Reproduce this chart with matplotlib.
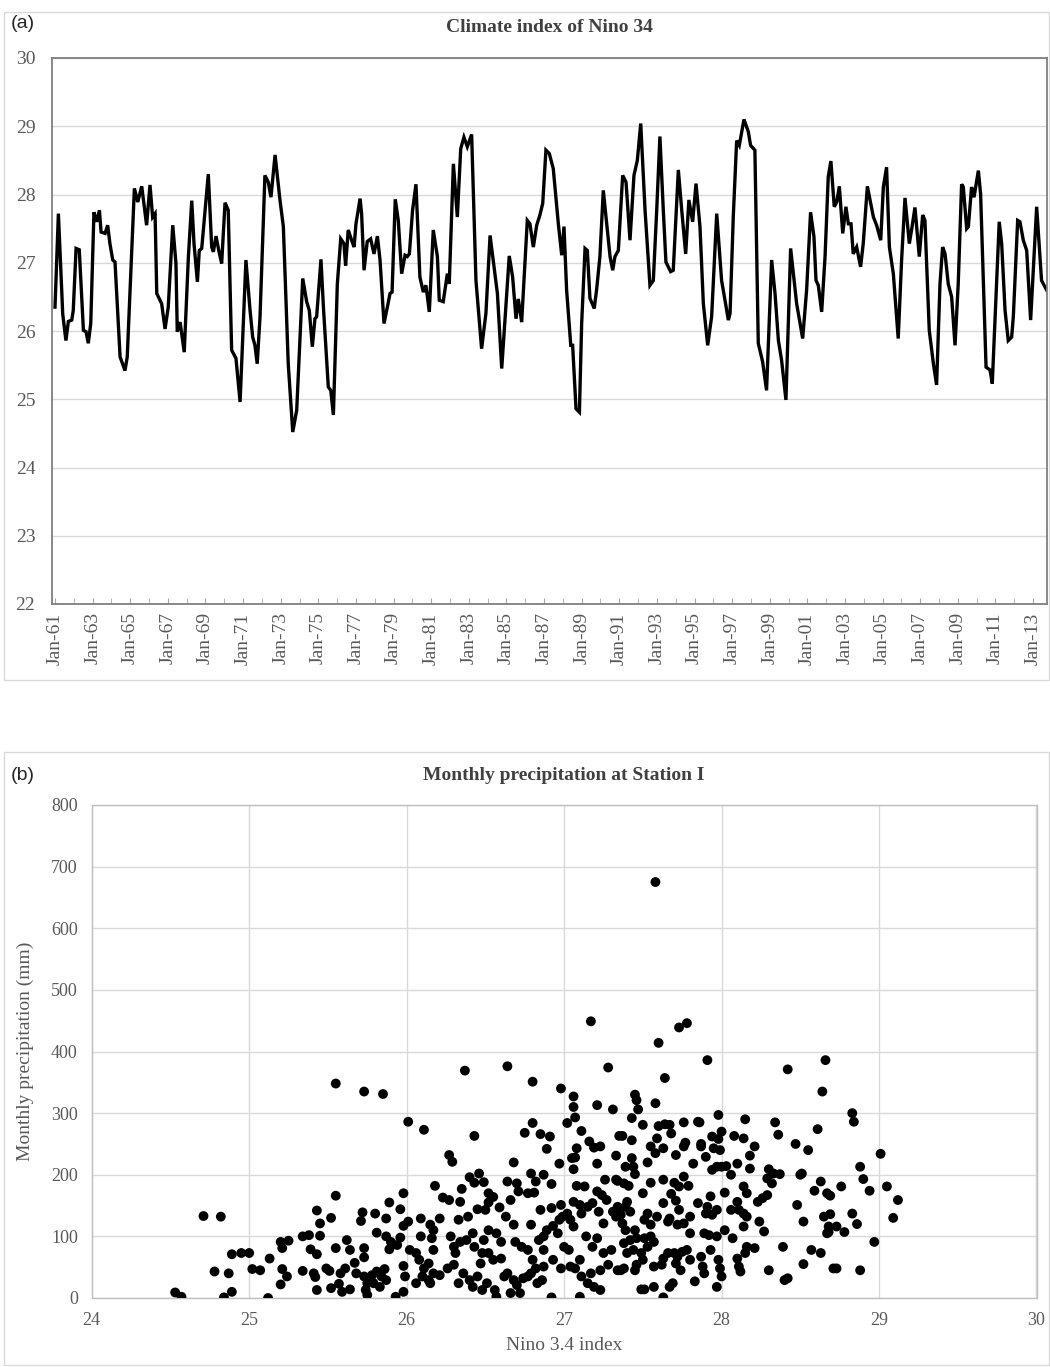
"""
Nino 3.4 index time series (a) and monthly precipitation vs. Nino 3.4 (b).
"""

import matplotlib
matplotlib.use("Agg")
import matplotlib.pyplot as plt
from matplotlib.patches import Rectangle
from matplotlib.ticker import FixedLocator, MultipleLocator

# --- Data: panel (a), turning points of the monthly series (decimal year, degC)
nino_t = [
    1961.00, 1961.18, 1961.41, 1961.58, 1961.71, 1961.89, 1961.97, 1962.12, 1962.29, 1962.51,
    1962.65, 1962.77, 1962.90, 1963.07, 1963.22, 1963.36, 1963.45, 1963.66, 1963.80, 1963.92,
    1964.07, 1964.19, 1964.46, 1964.72, 1964.84, 1965.22, 1965.40, 1965.61, 1965.87, 1966.05,
    1966.19, 1966.32, 1966.41, 1966.67, 1966.85, 1967.02, 1967.26, 1967.43, 1967.50, 1967.65,
    1967.87, 1968.09, 1968.27, 1968.39, 1968.57, 1968.67, 1968.80, 1969.15, 1969.33, 1969.42,
    1969.56, 1969.72, 1969.86, 1970.04, 1970.21, 1970.39, 1970.62, 1970.84, 1971.15, 1971.37,
    1971.51, 1971.63, 1971.75, 1971.90, 1972.16, 1972.34, 1972.48, 1972.70, 1972.96, 1973.14,
    1973.40, 1973.64, 1973.85, 1974.17, 1974.38, 1974.52, 1974.68, 1974.82, 1974.91, 1975.14,
    1975.27, 1975.53, 1975.66, 1975.80, 1976.01, 1976.19, 1976.36, 1976.45, 1976.59, 1976.77,
    1976.90, 1977.00, 1977.22, 1977.30, 1977.43, 1977.60, 1977.78, 1977.96, 1978.14, 1978.28,
    1978.49, 1978.67, 1978.81, 1978.92, 1979.09, 1979.25, 1979.43, 1979.61, 1979.73, 1979.84,
    1980.01, 1980.19, 1980.40, 1980.58, 1980.72, 1980.90, 1981.11, 1981.33, 1981.43, 1981.64,
    1981.86, 1981.96, 1982.18, 1982.39, 1982.57, 1982.74, 1982.92, 1983.15, 1983.38, 1983.68,
    1983.91, 1984.13, 1984.34, 1984.52, 1984.75, 1984.98, 1985.15, 1985.33, 1985.51, 1985.63,
    1985.81, 1986.11, 1986.25, 1986.43, 1986.61, 1986.78, 1986.93, 1987.10, 1987.28, 1987.49,
    1987.76, 1987.94, 1988.06, 1988.20, 1988.42, 1988.52, 1988.70, 1988.88, 1989.00, 1989.18,
    1989.30, 1989.44, 1989.67, 1989.80, 1989.97, 1990.15, 1990.33, 1990.51, 1990.65, 1990.77,
    1990.95, 1991.18, 1991.36, 1991.57, 1991.78, 1991.96, 1992.14, 1992.37, 1992.63, 1992.81,
    1992.99, 1993.16, 1993.34, 1993.48, 1993.73, 1993.87, 1994.14, 1994.32, 1994.53, 1994.70,
    1994.90, 1995.08, 1995.29, 1995.47, 1995.70, 1995.91, 1996.18, 1996.44, 1996.62, 1996.80,
    1996.89, 1997.06, 1997.24, 1997.38, 1997.63, 1997.86, 1997.98, 1998.21, 1998.39, 1998.62,
    1998.83, 1999.10, 1999.28, 1999.46, 1999.63, 1999.86, 2000.11, 2000.43, 2000.75, 2000.96,
    2001.17, 2001.35, 2001.46, 2001.58, 2001.76, 2001.94, 2002.11, 2002.25, 2002.43, 2002.56,
    2002.70, 2002.88, 2003.05, 2003.18, 2003.32, 2003.44, 2003.62, 2003.83, 2003.97, 2004.19,
    2004.33, 2004.51, 2004.68, 2004.90, 2005.04, 2005.21, 2005.36, 2005.57, 2005.83, 2006.01,
    2006.19, 2006.42, 2006.54, 2006.72, 2006.95, 2007.13, 2007.25, 2007.48, 2007.70, 2007.87,
    2008.05, 2008.19, 2008.32, 2008.49, 2008.67, 2008.85, 2009.02, 2009.20, 2009.29, 2009.47,
    2009.56, 2009.73, 2009.86, 2010.09, 2010.21, 2010.50, 2010.71, 2010.83, 2011.03, 2011.20,
    2011.33, 2011.51, 2011.68, 2011.86, 2011.95, 2012.18, 2012.30, 2012.48, 2012.66, 2012.87,
    2013.19, 2013.45, 2013.72,
]
nino_v = [
    26.35, 27.72, 26.25, 25.86, 26.14, 26.16, 26.30, 27.21, 27.19, 26.01,
    25.99, 25.82, 26.11, 27.74, 27.60, 27.77, 27.45, 27.43, 27.55, 27.28,
    27.04, 27.01, 25.62, 25.42, 25.62, 28.09, 27.89, 28.12, 27.55, 28.14,
    27.67, 27.72, 26.55, 26.40, 26.03, 26.35, 27.55, 26.99, 25.99, 26.13,
    25.69, 27.08, 27.91, 27.28, 26.72, 27.18, 27.21, 28.30, 27.23, 27.16,
    27.39, 27.16, 26.99, 27.88, 27.77, 25.72, 25.60, 24.96, 27.04, 26.30,
    25.91, 25.79, 25.52, 26.21, 28.28, 28.18, 27.96, 28.58, 27.92, 27.53,
    25.52, 24.52, 24.84, 26.77, 26.43, 26.30, 25.77, 26.18, 26.21, 27.05,
    26.35, 25.18, 25.13, 24.77, 26.69, 27.35, 27.28, 26.96, 27.48, 27.33,
    27.23, 27.57, 27.94, 27.72, 26.89, 27.31, 27.35, 27.13, 27.39, 27.04,
    26.11, 26.35, 26.55, 26.57, 27.93, 27.62, 26.84, 27.11, 27.09, 27.13,
    27.77, 28.15, 26.79, 26.57, 26.67, 26.28, 27.48, 27.09, 26.45, 26.43,
    26.84, 26.69, 28.45, 27.67, 28.67, 28.84, 28.70, 28.88, 26.74, 25.74,
    26.26, 27.40, 26.94, 26.55, 25.45, 26.40, 27.10, 26.79, 26.18, 26.47,
    26.13, 27.62, 27.57, 27.23, 27.55, 27.70, 27.87, 28.65, 28.60, 28.38,
    27.57, 27.11, 27.53, 26.60, 25.79, 25.79, 24.86, 24.81, 26.11, 27.21,
    27.18, 26.48, 26.33, 26.62, 27.09, 28.06, 27.57, 27.09, 26.89, 27.09,
    27.18, 28.28, 28.18, 27.33, 28.28, 28.50, 29.04, 27.77, 26.67, 26.74,
    27.77, 28.85, 27.77, 27.01, 26.87, 26.89, 28.36, 27.77, 27.13, 27.92,
    27.60, 28.16, 27.53, 26.40, 25.79, 26.21, 27.72, 26.74, 26.45, 26.16,
    26.26, 27.67, 28.79, 28.72, 29.10, 28.92, 28.72, 28.65, 25.82, 25.55,
    25.13, 27.04, 26.55, 25.86, 25.57, 24.99, 27.21, 26.40, 25.89, 26.60,
    27.74, 27.38, 26.74, 26.67, 26.28, 27.09, 28.26, 28.49, 27.82, 27.89,
    28.12, 27.43, 27.82, 27.57, 27.57, 27.13, 27.23, 26.94, 27.28, 28.12,
    27.92, 27.67, 27.55, 27.33, 28.11, 28.40, 27.23, 26.84, 25.89, 27.04,
    27.95, 27.28, 27.48, 27.81, 27.09, 27.70, 27.62, 26.01, 25.52, 25.21,
    26.69, 27.23, 27.13, 26.69, 26.50, 25.79, 26.69, 28.15, 28.11, 27.50,
    27.53, 28.11, 27.96, 28.35, 28.01, 25.47, 25.43, 25.23, 26.50, 27.60,
    27.28, 26.30, 25.86, 25.91, 26.21, 27.62, 27.60, 27.33, 27.18, 26.16,
    27.82, 26.74, 26.60,
]
year_ticks = list(range(1961, 2014, 2))
year_labels = [f"Jan-{y % 100:02d}" for y in year_ticks]

# --- Data: panel (b), Nino 3.4 index vs monthly precipitation (mm) ---------
scat_x = [
    # Nino < 26
    25.55, 25.73, 25.85, 26.01, 25.55, 24.71, 24.82, 25.43, 25.52, 25.45,
    25.45, 25.72, 25.71, 25.80, 25.87, 25.89, 25.98, 25.96, 25.98, 25.81,
    25.87, 25.90, 25.96, 25.94, 25.89, 25.62, 25.55, 25.64, 25.73, 25.73,
    25.67, 25.49, 25.41, 25.42, 25.51, 25.58, 25.61, 25.68, 25.73, 25.78,
    25.81, 25.86, 25.84, 25.75, 25.79, 25.83, 25.87, 25.75, 25.43, 25.52,
    25.57, 25.59, 25.64, 25.74, 25.93, 25.98, 25.98, 25.99, 25.34, 25.38,
    25.39, 25.43, 25.34, 25.20, 25.25, 25.21, 25.13, 25.21, 25.24, 25.20,
    25.12, 24.95, 25.00, 24.89, 25.02, 25.07, 24.78, 24.87, 24.89, 24.84,
    24.53, 24.57,
    # Nino 26 - 27.3
    27.17, 26.37, 26.64, 27.28, 26.80, 26.98, 27.06, 27.06, 27.07, 27.02,
    27.21, 27.31, 26.11, 26.43, 26.75, 26.80, 26.85, 26.91, 26.89, 27.11,
    27.16, 27.19, 27.23, 27.08, 27.05, 27.07, 27.06, 26.97, 27.21, 27.35,
    26.27, 26.29, 26.68, 26.18, 26.40, 26.46, 26.49, 26.43, 26.35, 26.23,
    26.27, 26.34, 26.52, 26.55, 26.52, 26.50, 26.59, 26.45, 26.39, 26.33,
    26.21, 26.09, 26.01, 26.64, 26.70, 26.66, 26.71, 26.77, 26.81, 26.79,
    26.82, 26.87, 26.92, 26.63, 26.68, 26.79, 26.85, 26.92, 26.98, 26.99,
    27.02, 27.04, 27.06, 27.10, 27.13, 27.08, 26.97, 26.93, 26.96, 26.89,
    26.87, 27.11, 27.15, 27.18, 27.21, 27.24, 27.27, 27.26, 27.33, 27.22,
    27.25, 27.31, 27.34, 26.15, 26.17, 26.16, 26.17, 26.09, 26.28, 26.30,
    26.31, 26.34, 26.38, 26.42, 26.43, 26.49, 26.52, 26.57, 26.60, 26.02,
    26.06, 26.08, 26.11, 26.14, 26.17, 26.10, 26.14, 26.15, 26.06, 26.21,
    26.26, 26.30, 26.33, 26.36, 26.40, 26.42, 26.45, 26.47, 26.48, 26.52,
    26.55, 26.60, 26.51, 26.56, 26.57, 26.48, 26.62, 26.64, 26.68, 26.70,
    26.72, 26.74, 26.77, 26.69, 26.73, 26.77, 26.80, 26.82, 26.84, 26.87,
    26.87, 26.86, 26.83, 26.79, 26.66, 26.92, 26.93, 26.98, 27.00, 27.03,
    27.04, 27.07, 27.10, 27.11, 27.10, 27.15, 27.19, 27.23, 27.18, 27.21,
    27.25, 27.30, 27.28, 27.34, 27.23, 27.17, 27.14, 27.06,
    # Nino 27.3 - 28.7
    27.73, 27.78, 27.60, 27.91, 27.64, 28.42, 28.66, 28.64, 27.45, 27.46,
    27.47, 27.58, 27.43, 27.50, 27.60, 27.64, 27.67, 27.68, 27.76, 27.85,
    27.86, 27.98, 28.00, 27.94, 27.98, 28.08, 28.14, 28.15, 28.34, 28.36,
    28.47, 28.55, 28.61, 27.37, 27.43, 27.59, 27.55, 27.58, 27.63, 27.71,
    27.76, 27.77, 27.87, 27.87, 27.90, 27.82, 27.95, 27.99, 27.97, 27.94,
    28.00, 28.03, 28.10, 28.21, 28.18, 28.18, 28.06, 28.30, 28.29, 28.32,
    28.37, 28.33, 28.51, 28.50, 28.63, 28.59, 28.67, 27.33, 27.39, 27.43,
    27.44, 27.45, 27.53, 27.34, 27.38, 27.41, 27.55, 27.63, 27.70, 27.73,
    27.79, 27.76, 27.50, 27.68, 27.71, 27.85, 27.80, 27.73, 27.63, 27.93,
    27.91, 27.90, 27.94, 27.97, 28.02, 28.14, 28.16, 28.23, 28.26, 28.29,
    28.10, 28.06, 28.11, 28.14, 28.16, 28.48, 28.52, 27.33, 27.36, 27.39,
    27.40, 27.42, 27.37, 27.51, 27.53, 27.55, 27.59, 27.67, 27.66, 27.72,
    27.76, 27.80, 27.89, 27.92, 27.97, 28.02, 28.07, 28.14, 28.24, 28.27,
    28.16, 28.21, 27.39, 27.45, 27.42, 27.46, 27.51, 27.55, 27.57, 27.53,
    27.38, 27.40, 27.44, 27.49, 27.50, 27.46, 27.45, 27.38, 27.36, 27.57,
    27.62, 27.63, 27.66, 27.70, 27.72, 27.75, 27.78, 27.80, 27.74, 27.71,
    27.87, 27.88, 27.89, 27.83, 27.93, 27.98, 27.99, 28.00, 27.97, 28.10,
    28.11, 28.12, 28.15, 28.30, 28.39, 28.42, 28.40, 28.52, 28.57, 28.63,
    27.49, 27.51, 27.57, 27.63, 27.67, 27.69, 28.65, 28.67,
    # Nino > 28.7 and the top outlier
    28.83, 28.84, 29.01, 28.88, 28.90, 28.94, 28.76, 29.05, 29.12, 29.09,
    28.69, 28.69, 28.83, 28.86, 28.68, 28.73, 28.78, 28.68, 28.97, 28.71,
    28.73, 28.88, 27.58,
]
scat_y = [
    348, 335, 331, 286, 166, 133, 132, 142, 130, 121,
    101, 139, 125, 137, 129, 155, 170, 144, 117, 106,
    100, 91, 98, 86, 79, 94, 81, 78, 81, 66,
    57, 48, 40, 34, 44, 40, 48, 40, 35, 37,
    43, 47, 35, 24, 24, 18, 29, 5, 13, 16,
    23, 10, 14, 13, 2, 10, 52, 35, 100, 102,
    79, 71, 44, 91, 93, 81, 64, 47, 35, 22,
    0, 73, 73, 71, 47, 45, 43, 40, 10, 1,
    9, 2,
    449, 369, 376, 374, 351, 340, 327, 310, 293, 284,
    313, 306, 273, 263, 268, 284, 266, 262, 242, 271,
    254, 244, 246, 243, 227, 228, 209, 218, 218, 263,
    232, 221, 220, 182, 196, 202, 188, 187, 177, 163,
    159, 156, 170, 164, 155, 143, 147, 144, 132, 127,
    129, 129, 124, 189, 186, 159, 173, 170, 171, 202,
    189, 200, 185, 132, 119, 119, 143, 146, 151, 132,
    137, 127, 156, 151, 181, 182, 127, 117, 105, 110,
    100, 137, 148, 154, 173, 167, 159, 192, 192, 140,
    121, 140, 148, 119, 110, 97, 78, 100, 100, 83,
    73, 91, 94, 105, 83, 94, 110, 105, 91, 78,
    73, 62, 48, 56, 40, 35, 29, 24, 24, 37,
    48, 54, 24, 40, 29, 18, 35, 56, 73, 73,
    62, 64, 24, 13, 2, 13, 35, 40, 29, 21,
    8, 32, 35, 91, 83, 78, 62, 48, 94, 78,
    51, 29, 24, 40, 8, 1, 62, 48, 83, 78,
    51, 48, 62, 35, 2, 24, 18, 13, 83, 97,
    73, 78, 54, 45, 45, 40, 100, 116,
    439, 446, 414, 386, 357, 371, 386, 335, 330, 321,
    306, 316, 292, 281, 279, 282, 281, 267, 285, 286,
    285, 297, 270, 262, 258, 263, 259, 290, 285, 265,
    250, 240, 274, 263, 256, 259, 246, 235, 243, 232,
    246, 252, 250, 246, 229, 218, 243, 240, 213, 208,
    213, 214, 218, 246, 231, 210, 200, 209, 194, 186,
    201, 202, 202, 200, 189, 174, 170, 231, 213, 227,
    213, 201, 220, 190, 186, 182, 187, 192, 187, 181,
    182, 197, 170, 169, 158, 154, 132, 143, 154, 165,
    148, 137, 135, 143, 171, 181, 170, 156, 162, 167,
    156, 143, 143, 137, 132, 151, 124, 132, 135, 148,
    156, 140, 121, 127, 137, 119, 132, 129, 124, 119,
    121, 105, 105, 102, 100, 110, 97, 116, 124, 108,
    83, 81, 110, 110, 94, 97, 97, 100, 91, 83,
    89, 73, 78, 73, 62, 54, 45, 48, 45, 51,
    54, 64, 73, 73, 67, 75, 78, 62, 45, 56,
    67, 51, 40, 27, 78, 62, 48, 35, 18, 64,
    51, 43, 73, 45, 83, 32, 29, 55, 78, 73,
    14, 14, 18, 1, 18, 24, 132, 105,
    300, 286, 234, 213, 193, 174, 181, 181, 159, 130,
    166, 136, 137, 120, 116, 116, 107, 107, 91, 48,
    48, 45, 675,
]

# --- Figure ------------------------------------------------------------------
SERIF = ["Liberation Serif", "DejaVu Serif"]
SANS = ["Liberation Sans", "DejaVu Sans"]
TXT = "#595959"
GRID = "#d9d9d9"

fig = plt.figure(figsize=(10.5, 13.67), dpi=100)
H = 1367.0

# panel frames
fig.patches.append(Rectangle((0.004, 1 - 680 / H), 0.995, (680 - 12) / H,
                             transform=fig.transFigure, fill=False,
                             edgecolor=GRID, lw=1.0))
fig.patches.append(Rectangle((0.004, 1 - 1365 / H), 0.995, (1365 - 752) / H,
                             transform=fig.transFigure, fill=False,
                             edgecolor=GRID, lw=1.0))

# --- (a) time series ---------------------------------------------------------
ax1 = fig.add_axes([52 / 1050, 1 - 604 / H, (1047 - 52) / 1050, (604 - 58) / H])
ax1.plot(nino_t, nino_v, color="black", lw=2.4, solid_joinstyle="miter")
ax1.set_xlim(1960.84, 2013.74)
ax1.set_ylim(22, 30)
ax1.yaxis.set_major_locator(MultipleLocator(1))
ax1.xaxis.set_major_locator(FixedLocator(year_ticks))
ax1.xaxis.set_minor_locator(FixedLocator(range(1961, 2014)))
ax1.set_xticklabels(year_labels, rotation=90, fontfamily=SERIF, fontsize=14, color=TXT)
for lab in ax1.get_yticklabels():
    lab.set_fontfamily(SERIF)
    lab.set_fontsize(14)
    lab.set_color(TXT)
ax1.grid(axis="y", color=GRID, lw=1.0)
ax1.set_axisbelow(True)
ax1.tick_params(axis="y", length=0, pad=12)
ax1.tick_params(axis="x", which="both", direction="in", length=4, color="#a6a6a6", pad=6)
for s in ax1.spines.values():
    s.set_color("#7f7f7f")
    s.set_linewidth(1.3)
ax1.set_title("Climate index of Nino 34", fontfamily=SERIF, fontweight="bold",
              fontsize=14, color="#404040", pad=19)
fig.text(0.010, 1 - 28 / H, "(a)", fontfamily=SANS, fontsize=14, color="#262626")

# --- (b) scatter -------------------------------------------------------------
ax2 = fig.add_axes([91.7 / 1050, 1 - 1298 / H, (1036.5 - 91.7) / 1050, (1298 - 805) / H])
ax2.scatter(scat_x, scat_y, s=50, color="black", edgecolors="none", zorder=3)
ax2.set_xlim(24, 30)
ax2.set_ylim(0, 800)
ax2.xaxis.set_major_locator(MultipleLocator(1))
ax2.yaxis.set_major_locator(MultipleLocator(100))
ax2.grid(True, color=GRID, lw=1.0)
ax2.set_axisbelow(True)
ax2.tick_params(length=0, pad=10)
for lab in ax2.get_xticklabels() + ax2.get_yticklabels():
    lab.set_fontfamily(SERIF)
    lab.set_fontsize(13)
    lab.set_color(TXT)
for s in ax2.spines.values():
    s.set_color("#bfbfbf")
    s.set_linewidth(1.0)
ax2.set_xlabel("Nino 3.4 index", fontfamily=SERIF, fontsize=14, color=TXT, labelpad=6)
ax2.set_ylabel("Monthly precipitation (mm)", fontfamily=SERIF, fontsize=14, color=TXT,
               labelpad=12)
ax2.set_title("Monthly precipitation at Station I", fontfamily=SERIF, fontweight="bold",
              fontsize=14, color="#404040", pad=18)
fig.text(0.010, 1 - 780 / H, "(b)", fontfamily=SANS, fontsize=14, color="#262626")

fig.savefig("out.png", dpi=100)
